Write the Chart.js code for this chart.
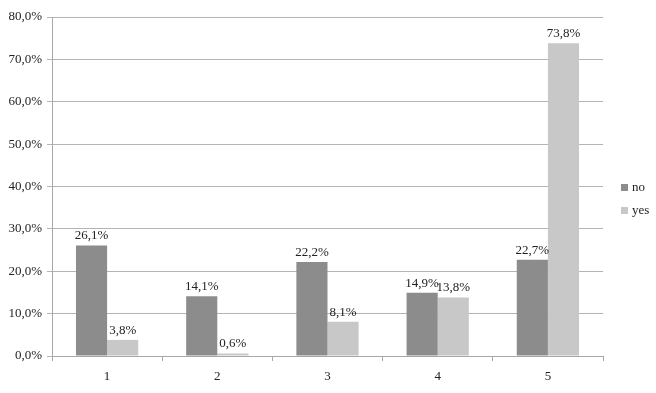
<!DOCTYPE html>
<html>
<head>
<meta charset="utf-8">
<script src="https://cdn.jsdelivr.net/npm/chart.js@4.4.0/dist/chart.umd.min.js"></script>
<style>
  html, body { margin: 0; padding: 0; background: #fff; }
  #wrap { width: 656px; height: 393px; position: relative; }
</style>
</head>
<body>
<div id="wrap"><canvas id="chart" width="656" height="393"></canvas></div>
<script>
// chart data
const categories = ['1', '2', '3', '4', '5'];
const noValues = [26.1, 14.1, 22.2, 14.9, 22.7];
const yesValues = [3.8, 0.6, 8.1, 13.8, 73.8];
const seriesNames = ['no', 'yes'];
const yTicks = [0, 10, 20, 30, 40, 50, 60, 70, 80];

const FONT = '"Liberation Serif", "Times New Roman", serif';
const fmt = v => v.toFixed(1).replace('.', ',') + '%';

// labels above each bar
const barLabels = {
    id: 'barLabels',
    afterDatasetsDraw(chart) {
        const ctx = chart.ctx;
        ctx.save();
        ctx.font = '13px ' + FONT;
        ctx.fillStyle = '#222';
        ctx.textAlign = 'center';
        ctx.textBaseline = 'bottom';
        chart.data.datasets.forEach((ds, i) => {
            chart.getDatasetMeta(i).data.forEach((bar, j) => {
                ctx.fillText(fmt(ds.data[j]), bar.x, bar.y - 3);
            });
        });
        ctx.restore();
    }
};

// legend on the right, drawn by hand
const sideLegend = {
    id: 'sideLegend',
    afterDraw(chart) {
        const ctx = chart.ctx;
        ctx.save();
        ctx.font = '13px ' + FONT;
        ctx.textBaseline = 'middle';
        chart.data.datasets.forEach((ds, i) => {
            const y = 188 + i * 23;
            ctx.fillStyle = ds.backgroundColor;
            ctx.fillRect(621, y - 4, 7, 7);
            ctx.fillStyle = '#222';
            ctx.fillText(ds.label, 632, y);
        });
        ctx.restore();
    }
};

new Chart(document.getElementById('chart'), {
    type: 'bar',
    data: {
        labels: categories,
        datasets: [
            { label: seriesNames[0], data: noValues, backgroundColor: '#8c8c8c' },
            { label: seriesNames[1], data: yesValues, backgroundColor: '#c8c8c8' }
        ]
    },
    options: {
        responsive: false,
        animation: false,
        layout: { padding: { top: 17, right: 53, left: 0, bottom: 0 } },
        datasets: {
            bar: { categoryPercentage: 0.565, barPercentage: 1.0 }
        },
        plugins: {
            legend: { display: false },
            tooltip: { enabled: false }
        },
        scales: {
            x: {
                grid: {
                    offset: true,
                    drawOnChartArea: false,
                    drawTicks: true,
                    tickLength: 5,
                    color: '#a8a8a8'
                },
                border: { color: '#a8a8a8' },
                ticks: {
                    color: '#222',
                    font: { family: FONT, size: 13 },
                    padding: 8
                },
                afterFit(scale) { scale.height = 37; }
            },
            y: {
                min: 0,
                max: 80,
                afterBuildTicks(scale) {
                    scale.ticks = yTicks.map(v => ({ value: v }));
                },
                grid: {
                    color: '#b4b4b4',
                    tickLength: 5
                },
                border: { color: '#a8a8a8' },
                ticks: {
                    color: '#222',
                    font: { family: FONT, size: 13 },
                    padding: 5,
                    callback: v => fmt(v)
                },
                afterFit(scale) { scale.width = 52; }
            }
        }
    },
    plugins: [barLabels, sideLegend]
});
</script>
</body>
</html>
